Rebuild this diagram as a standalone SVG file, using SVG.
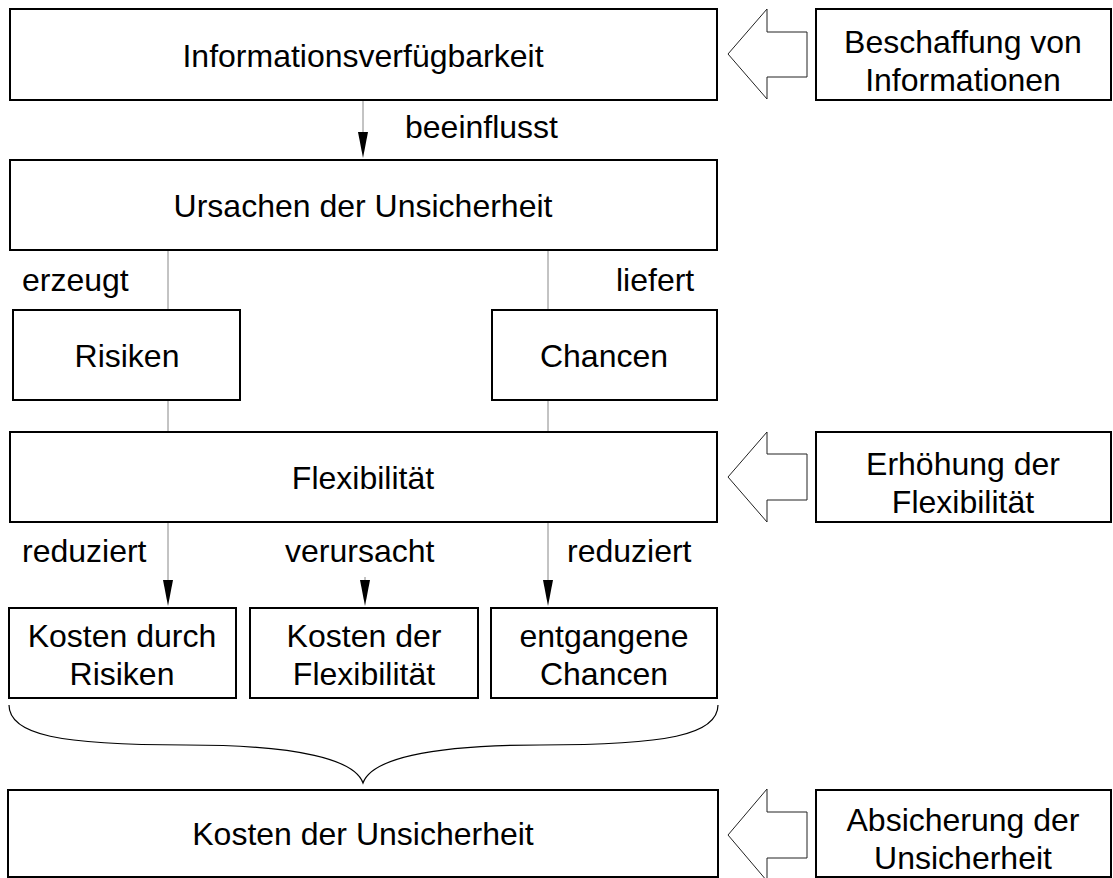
<svg xmlns="http://www.w3.org/2000/svg" width="1113" height="878" viewBox="0 0 1113 878">
  <defs>
    <style>
      .box { fill: #fff; stroke: #000; stroke-width: 2; }
      .blk { fill: #fff; stroke: #222; stroke-width: 1; stroke-linejoin: miter; }
      .t { font-family: "Liberation Sans", Arial, sans-serif; font-size: 32px; fill: #000; }
      .c { text-anchor: middle; }
      .ln { stroke: #888; stroke-width: 1; fill: none; }
      .head { fill: #000; }
      .br { stroke: #000; stroke-width: 1.2; fill: none; }
    </style>
  </defs>
  <rect width="1113" height="878" fill="#fff"/>

  <!-- connectors, arrowheads, brace and their labels -->
  <g id="connectors">
    <line class="ln" x1="363" y1="100" x2="363" y2="133"/>
    <path class="head" d="M358,132 L368,132 L363,158 Z"/>
    <line class="ln" x1="168" y1="250" x2="168" y2="310"/>
    <line class="ln" x1="548" y1="250" x2="548" y2="310"/>
    <line class="ln" x1="168" y1="400" x2="168" y2="432"/>
    <line class="ln" x1="548" y1="400" x2="548" y2="432"/>
    <line class="ln" x1="168" y1="522" x2="168" y2="581"/>
    <path class="head" d="M163,580 L173,580 L168,606 Z"/>
    <line class="ln" x1="365" y1="577" x2="365" y2="581"/>
    <path class="head" d="M360,580 L370,580 L365,606 Z"/>
    <line class="ln" x1="548" y1="522" x2="548" y2="581"/>
    <path class="head" d="M543,580 L553,580 L548,606 Z"/>
    <path class="br" d="M9,705 C9,735 60,745 186,745 C300,745 355,760 363,783 C371,760 426,745 540,745 C666,745 718,735 718,705"/>
    <text class="t" x="405" y="138">beeinflusst</text>
    <text class="t" x="22" y="291">erzeugt</text>
    <text class="t" x="616" y="291">liefert</text>
    <text class="t" x="22" y="562">reduziert</text>
    <text class="t" x="285" y="562">verursacht</text>
    <text class="t" x="567" y="562">reduziert</text>
  </g>

  <g id="informationsverfuegbarkeit">
    <rect class="box" x="10" y="9" width="707" height="91"/>
    <text class="t c" x="363" y="67">Informationsverfügbarkeit</text>
  </g>
  <g id="ursachen">
    <rect class="box" x="10" y="160" width="707" height="90"/>
    <text class="t c" x="363" y="217">Ursachen der Unsicherheit</text>
  </g>
  <g id="risiken">
    <rect class="box" x="13" y="310" width="227" height="90"/>
    <text class="t c" x="127" y="367">Risiken</text>
  </g>
  <g id="chancen">
    <rect class="box" x="492" y="310" width="225" height="90"/>
    <text class="t c" x="604" y="367">Chancen</text>
  </g>
  <g id="flexibilitaet">
    <rect class="box" x="10" y="432" width="707" height="90"/>
    <text class="t c" x="363" y="489">Flexibilität</text>
  </g>
  <g id="kosten-risiken">
    <rect class="box" x="9" y="608" width="227" height="90"/>
    <text class="t c" x="122" y="647">Kosten durch</text>
    <text class="t c" x="122" y="685">Risiken</text>
  </g>
  <g id="kosten-flexibilitaet">
    <rect class="box" x="250" y="608" width="228" height="90"/>
    <text class="t c" x="364" y="647">Kosten der</text>
    <text class="t c" x="364" y="685">Flexibilität</text>
  </g>
  <g id="entgangene-chancen">
    <rect class="box" x="491" y="608" width="226" height="90"/>
    <text class="t c" x="604" y="647">entgangene</text>
    <text class="t c" x="604" y="685">Chancen</text>
  </g>
  <g id="kosten-unsicherheit">
    <rect class="box" x="8" y="790" width="710" height="87"/>
    <text class="t c" x="363" y="845">Kosten der Unsicherheit</text>
  </g>

  <g id="pfeil-beschaffung">
    <polygon class="blk" points="728,54 767,9 767,32 807,32 807,77 767,77 767,99"/>
  </g>
  <g id="beschaffung">
    <rect class="box" x="816" y="9" width="295" height="91"/>
    <text class="t c" x="963" y="53">Beschaffung von</text>
    <text class="t c" x="963" y="91">Informationen</text>
  </g>
  <g id="pfeil-erhoehung">
    <polygon class="blk" points="728,477 767,432 767,454 807,454 807,500 767,500 767,522"/>
  </g>
  <g id="erhoehung">
    <rect class="box" x="816" y="432" width="295" height="90"/>
    <text class="t c" x="963" y="475">Erhöhung der</text>
    <text class="t c" x="963" y="513">Flexibilität</text>
  </g>
  <g id="pfeil-absicherung">
    <polygon class="blk" points="728,835 767,789 767,812 807,812 807,858 767,858 767,881"/>
  </g>
  <g id="absicherung">
    <rect class="box" x="816" y="790" width="295" height="87"/>
    <text class="t c" x="963" y="831">Absicherung der</text>
    <text class="t c" x="963" y="869">Unsicherheit</text>
  </g>
</svg>
